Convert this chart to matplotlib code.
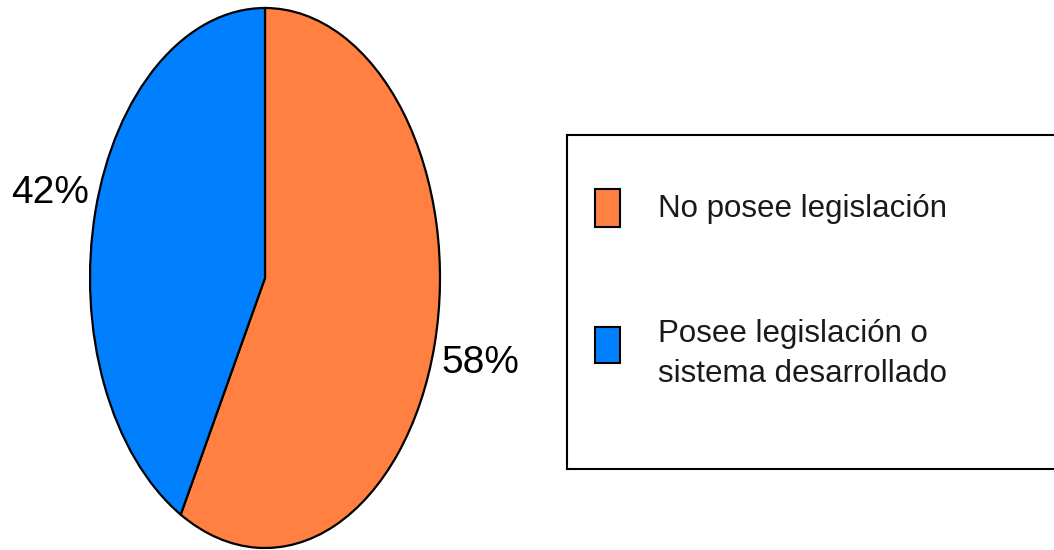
import matplotlib
matplotlib.use("Agg")
import matplotlib.pyplot as plt
from matplotlib.patches import Rectangle
from matplotlib import font_manager

categories = ["No posee legislación", "Posee legislación o\nsistema desarrollado"]
values = [58, 42]
colors = ["#FF8040", "#0080FF"]

names = {f.name for f in font_manager.fontManager.ttflist}
fam = "Liberation Sans Narrow" if "Liberation Sans Narrow" in names else "Liberation Sans"

W, H = 1054, 550
fig = plt.figure(figsize=(W / 100, H / 100), dpi=100)

# pie axes: ellipse spanning x 90..440, y 8..548 px
ax = fig.add_axes([90 / W, (H - 548) / H, 350 / W, 540 / H])
wedges, texts, autotexts = ax.pie(
    values, colors=colors, startangle=90, counterclock=False,
    wedgeprops=dict(edgecolor="black", linewidth=1.6),
    autopct="%1.0f%%", pctdistance=1.27,
    textprops=dict(family=fam, fontsize=28, color="black"),
)
ax.set_aspect("auto")
ax.set_xlim(-1.0, 1.0)
ax.set_ylim(-1.0, 1.0)
for w in wedges:
    w.set_clip_on(False)

# legend box
lax = fig.add_axes([567 / W, (H - 469) / H, (1070 - 567) / W, (469 - 135) / H])
lax.set_xlim(567, 1070)
lax.set_ylim(469, 135)
lax.set_xticks([])
lax.set_yticks([])
for s in lax.spines.values():
    s.set_color("black")
    s.set_linewidth(1.5)

patch_y = [(189, 227), (327, 363)]
text_y = [209, 354]
for cat, col, (y0, y1), ty in zip(categories, colors, patch_y, text_y):
    lax.add_patch(Rectangle((595, y0), 25, y1 - y0, facecolor=col,
                            edgecolor="black", linewidth=1.5))
    lax.text(658, ty, cat, family=fam, fontsize=22.5, va="center", ha="left",
             linespacing=1.4, color="#1a1a1a")

fig.savefig("out.png", dpi=100, facecolor="white")
